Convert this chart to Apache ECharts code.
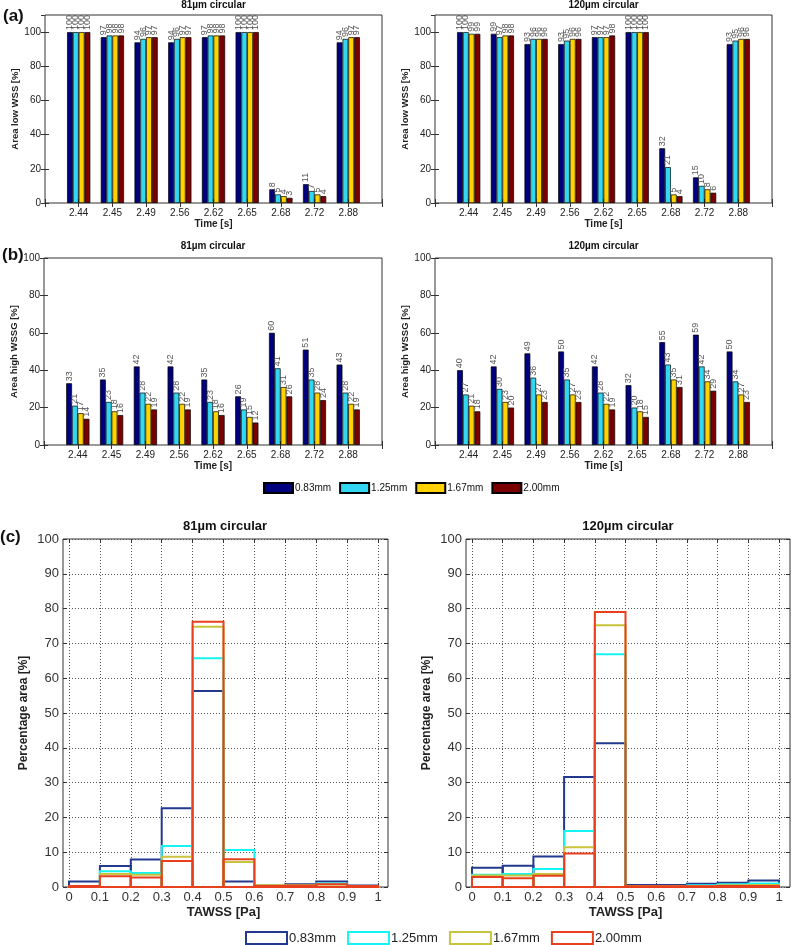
<!DOCTYPE html>
<html><head><meta charset="utf-8">
<script src="https://cdn.jsdelivr.net/npm/echarts@6/dist/echarts.min.js"></script>
<style>html,body{margin:0;padding:0;background:#fff}#c{width:793px;height:945px}</style>
</head><body><div id="c"></div>
<script>
// ---- data ----
const times = ['2.44','2.45','2.49','2.56','2.62','2.65','2.68','2.72','2.88'];
const sizes = ['0.83mm','1.25mm','1.67mm','2.00mm'];

const low81_083 = [100,97,94,94,97,100,8,11,94];
const low81_125 = [100,98,96,96,98,100,5,7,96];
const low81_167 = [100,98,97,97,98,100,4,5,97];
const low81_200 = [100,98,97,97,98,100,3,4,97];

const low120_083 = [100,99,93,93,97,100,32,15,93];
const low120_125 = [100,97,96,95,97,100,21,10,95];
const low120_167 = [99,98,96,96,97,100,5,8,96];
const low120_200 = [99,98,96,96,98,100,4,6,96];

const high81_083 = [33,35,42,42,35,26,60,51,43];
const high81_125 = [21,23,28,28,23,19,41,35,28];
const high81_167 = [17,18,22,22,18,15,31,28,22];
const high81_200 = [14,16,19,19,16,12,26,24,19];

const high120_083 = [40,42,49,50,42,32,55,59,50];
const high120_125 = [27,30,36,35,28,20,43,42,34];
const high120_167 = [21,23,27,27,22,18,35,34,27];
const high120_200 = [18,20,23,23,19,15,31,29,23];

const binEdges = [0,0.1,0.2,0.3,0.4,0.5,0.6,0.7,0.8,0.9,1.0];
const taw81_083 = [1.6,6.0,7.9,22.6,56.3,1.6,0.4,0.8,1.6,0.4];
const taw81_125 = [0.3,4.5,4.0,11.8,65.7,10.6,0.3,0.5,1.0,0.3];
const taw81_167 = [0.3,3.7,3.5,8.7,74.8,7.2,0.5,0.5,0.7,0.3];
const taw81_200 = [0.3,3.1,2.7,7.5,76.2,8.0,0.3,0.4,0.8,0.3];

const taw120_083 = [5.5,6.1,8.8,31.6,41.3,0.6,0.6,0.9,1.2,1.9];
const taw120_125 = [3.5,3.7,5.2,16.1,66.9,0.3,0.3,0.5,0.8,1.0];
const taw120_167 = [3.3,3.3,3.7,11.4,75.2,0.3,0.3,0.3,0.5,0.6];
const taw120_200 = [2.9,2.5,3.2,9.6,79.0,0.2,0.2,0.2,0.3,0.3];

// ---- styles ----
const FONT = 'Liberation Sans, Arial, sans-serif';
const barColors = ['#00007f','#33d7f2','#ffd200','#7a0000'];
const lineColors = ['#22398f','#14f4f4','#c8c43c','#e8401e'];
const AX = '#333';

const grids = [
  {left:45, top:15, width:337, height:188, show:true, borderColor:AX, borderWidth:1},
  {left:435, top:15, width:337, height:188, show:true, borderColor:AX, borderWidth:1},
  {left:44, top:258, width:338, height:187, show:true, borderColor:AX, borderWidth:1},
  {left:435, top:258, width:337, height:187, show:true, borderColor:AX, borderWidth:1},
  {left:63, top:539, width:325, height:348, show:true, borderColor:AX, borderWidth:1},
  {left:69, top:539, width:309, height:348},
  {left:466, top:539, width:324, height:348, show:true, borderColor:AX, borderWidth:1},
  {left:472, top:539, width:307, height:348}
];

const xAxes = [], yAxes = [];
function barAxes(g, ymax, yname){
  xAxes.push({gridIndex:g, type:'value', min:0, max:10, interval:1, position:'bottom',
    axisLine:{show:false}, splitLine:{show:false},
    axisTick:{show:true, inside:true, length:4, lineStyle:{color:AX}},
    axisLabel:{margin:5, fontSize:10, color:'#222', fontFamily:FONT,
      formatter:v => (v>=1 && v<=times.length) ? times[v-1] : ''},
    name:'Time [s]', nameLocation:'middle', nameGap:16,
    nameTextStyle:{fontSize:10, fontWeight:'bold', color:'#222', fontFamily:FONT}});
  xAxes.push({gridIndex:g, type:'value', min:0, max:10, interval:1, position:'top',
    axisLine:{show:false}, splitLine:{show:false}, axisLabel:{show:false},
    axisTick:{show:true, inside:true, length:4, lineStyle:{color:AX}}});
  yAxes.push({gridIndex:g, type:'value', min:0, max:ymax, interval:20, position:'left',
    axisLine:{show:false}, splitLine:{show:false},
    axisTick:{show:true, inside:true, length:4, lineStyle:{color:AX}},
    axisLabel:{margin:4, fontSize:10, color:'#222', fontFamily:FONT, showMaxLabel: ymax===100,
      formatter:v => v>100 ? '' : String(v)},
    name:yname, nameLocation:'middle', nameGap:23,
    nameTextStyle:{fontSize:9.5, fontWeight:'bold', color:'#222', fontFamily:FONT}});
  yAxes.push({gridIndex:g, type:'value', min:0, max:ymax, interval:20, position:'right',
    axisLine:{show:false}, splitLine:{show:false}, axisLabel:{show:false},
    axisTick:{show:true, inside:true, length:4, lineStyle:{color:AX}}});
}
barAxes(0,110,'Area low WSS [%]');
barAxes(1,110,'Area low WSS [%]');
barAxes(2,100,'Area high WSSG [%]');
barAxes(3,100,'Area high WSSG [%]');

function histAxes(frameG, dataG){
  xAxes.push({gridIndex:frameG, type:'value', min:0, max:1, show:false});
  yAxes.push({gridIndex:frameG, type:'value', min:0, max:100, interval:10, position:'left',
    axisLine:{show:false},
    splitLine:{show:true, lineStyle:{type:[1,2], color:'#555', width:1}},
    axisTick:{show:true, inside:true, length:4, lineStyle:{color:AX}},
    axisLabel:{margin:4, fontSize:13, color:'#333', fontFamily:FONT},
    name:'Percentage area [%]', nameLocation:'middle', nameGap:33,
    nameTextStyle:{fontSize:12, fontWeight:'bold', color:'#222', fontFamily:FONT}});
  yAxes.push({gridIndex:frameG, type:'value', min:0, max:100, interval:10, position:'right',
    axisLine:{show:false}, splitLine:{show:false}, axisLabel:{show:false},
    axisTick:{show:true, inside:true, length:4, lineStyle:{color:AX}}});
  xAxes.push({gridIndex:dataG, type:'value', min:0, max:1, interval:0.1, position:'bottom',
    axisLine:{show:false},
    splitLine:{show:true, lineStyle:{type:[1,2], color:'#555', width:1}},
    axisTick:{show:true, inside:true, length:4, lineStyle:{color:AX}},
    axisLabel:{margin:4, fontSize:13, color:'#333', fontFamily:FONT, showMinLabel:true, showMaxLabel:true},
    name:'TAWSS [Pa]', nameLocation:'middle', nameGap:19,
    nameTextStyle:{fontSize:13, fontWeight:'bold', color:'#222', fontFamily:FONT}});
  xAxes.push({gridIndex:dataG, type:'value', min:0, max:1, interval:0.1, position:'top',
    axisLine:{show:false}, splitLine:{show:false}, axisLabel:{show:false},
    axisTick:{show:true, inside:true, length:4, lineStyle:{color:AX}}});
  yAxes.push({gridIndex:dataG, type:'value', min:0, max:100, show:false});
}
histAxes(4,5);
histAxes(6,7);

const series = [];
function barGroup(xi, yi, arrs){
  arrs.forEach((arr, k) => {
    series.push({type:'bar', name:sizes[k], xAxisIndex:xi, yAxisIndex:yi,
      data: arr.map((v,i) => [i+1, v]),
      barWidth:5.8, barGap:'0%',
      itemStyle:{color:barColors[k], borderColor:'#000', borderWidth:0.7},
      label:{show:true, position:'top', rotate:90, align:'left', verticalAlign:'middle',
        distance:2, fontSize:9, color:'#555', fontFamily:FONT, formatter: p => String(p.value[1])},
      emphasis:{disabled:true}, animation:false});
  });
}
barGroup(0,0,[low81_083,low81_125,low81_167,low81_200]);
barGroup(2,2,[low120_083,low120_125,low120_167,low120_200]);
barGroup(4,4,[high81_083,high81_125,high81_167,high81_200]);
barGroup(6,6,[high120_083,high120_125,high120_167,high120_200]);

function histGroup(xi, yi, arrs){
  arrs.forEach((arr, k) => {
    const col = lineColors[k];
    series.push({type:'custom', name:'c-'+sizes[k], xAxisIndex:xi, yAxisIndex:yi,
      data: arr.map((v,i) => [binEdges[i], binEdges[i+1], v]),
      encode:{x:[0,1], y:2},
      itemStyle:{color:col},
      renderItem:(params, api) => {
        const p0 = api.coord([api.value(0), api.value(2)]);
        const p1 = api.coord([api.value(1), 0]);
        return {type:'rect', shape:{x:p0[0], y:p0[1], width:p1[0]-p0[0], height:p1[1]-p0[1]},
          style:{fill:'none', stroke:col, lineWidth:2}};
      },
      animation:false, silent:true, z:2+k});
  });
}
histGroup(9,10,[taw81_083,taw81_125,taw81_167,taw81_200]);
histGroup(12,13,[taw120_083,taw120_125,taw120_167,taw120_200]);

const tStyle = (fs) => ({fontSize:fs, fontWeight:'bold', color:'#111', fontFamily:FONT});
const titles = [
  {text:'81µm circular', left:213.5, top:0, textAlign:'center', padding:0, textStyle:tStyle(10)},
  {text:'120µm circular', left:603.5, top:0, textAlign:'center', padding:0, textStyle:tStyle(10)},
  {text:'81µm circular', left:213, top:241, textAlign:'center', padding:0, textStyle:tStyle(10)},
  {text:'120µm circular', left:603.5, top:241, textAlign:'center', padding:0, textStyle:tStyle(10)},
  {text:'81µm circular', left:225, top:520, textAlign:'center', padding:0, textStyle:tStyle(13)},
  {text:'120µm circular', left:628, top:520, textAlign:'center', padding:0, textStyle:tStyle(13)},
  {text:'(a)', left:3, top:8, padding:0, textStyle:tStyle(17)},
  {text:'(b)', left:2, top:247, padding:0, textStyle:tStyle(17)},
  {text:'(c)', left:0, top:529, padding:0, textStyle:tStyle(17)}
];

const option = {
  animation:false,
  backgroundColor:'#fff',
  title: titles,
  grid: grids,
  xAxis: xAxes,
  yAxis: yAxes,
  legend: [
    {data: sizes.map(s => ({name:s, icon:'rect'})), left:263, top:482, padding:0,
     itemWidth:29, itemHeight:10, itemGap:8, selectedMode:false,
     textStyle:{fontSize:10, color:'#111', fontFamily:FONT, padding:[0,0,0,-3]}},
    {data: sizes.map((s,k) => ({name:'c-'+s, icon:'rect',
        itemStyle:{color:'rgba(0,0,0,0)', borderColor:lineColors[k], borderWidth:2}})),
     left:245, top:931, padding:0, itemWidth:41, itemHeight:12, itemGap:11, selectedMode:false,
     formatter: n => n.slice(2),
     textStyle:{fontSize:13, color:'#222', fontFamily:FONT, padding:[0,0,0,-3]}}
  ],
  series: series
};
const chart = echarts.init(document.getElementById('c'), null, {renderer:'canvas'});
chart.setOption(option);
</script></body></html>
